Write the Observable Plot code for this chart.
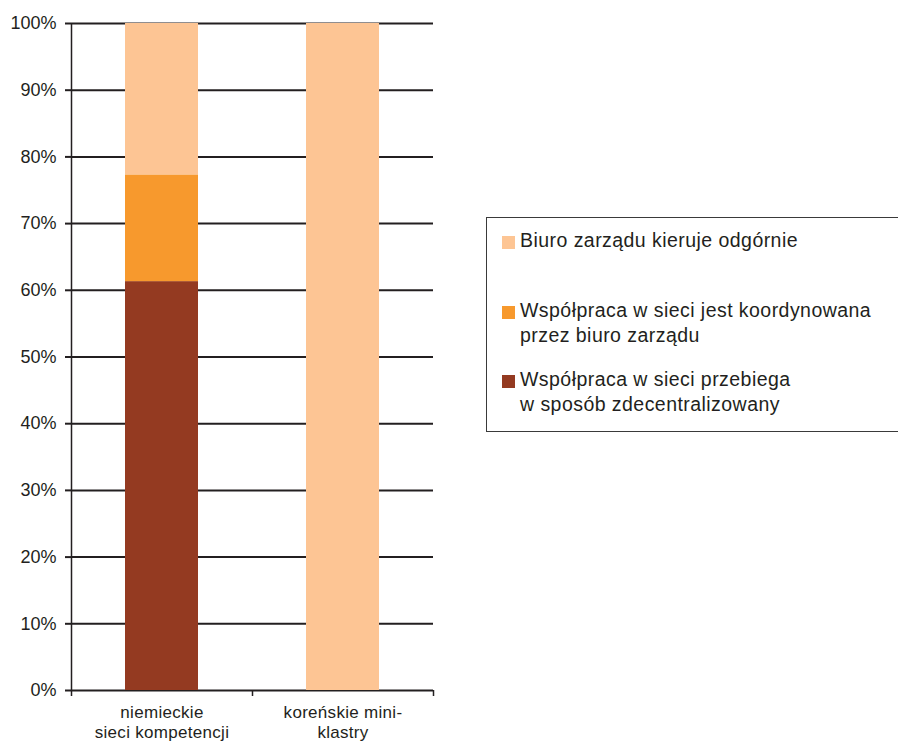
<!DOCTYPE html>
<html>
<head>
<meta charset="utf-8">
<script src="https://cdn.jsdelivr.net/npm/d3@7"></script>
<script src="https://cdn.jsdelivr.net/npm/@observablehq/plot@0.6"></script>
<style>
  html, body { margin: 0; padding: 0; background: #fff; }
  #wrap { position: relative; width: 898px; height: 744px; overflow: hidden; font-family: "Liberation Sans", Arial, sans-serif; }
  #legend { position: absolute; left: 486px; top: 217px; width: 430px; height: 215px; border: 1px solid #3a3a3a; box-sizing: border-box; }
  .item { position: absolute; left: 33px; font-size: 19.5px; letter-spacing: 0.45px; line-height: 25px; color: #231f20; white-space: nowrap; }
  .sw { position: absolute; left: 15px; width: 13px; height: 13px; }
</style>
</head>
<body>
<div id="wrap"></div>
<script>
// Categories (x axis), stacked series (bottom to top) and their shares in percent
const categories = ["niemieckie\nsieci kompetencji", "koreńskie mini-\nklastry"];
const seriesNames = [
  "Współpraca w sieci przebiega w sposób zdecentralizowany",
  "Współpraca w sieci jest koordynowana przez biuro zarządu",
  "Biuro zarządu kieruje odgórnie"
];
const seriesColors = ["#943a21", "#f7992d", "#fdc594"];
const decentralized = [61.3, 0];
const coordinated = [16.0, 0];
const topDown = [22.7, 100];
const yTicks = [0, 10, 20, 30, 40, 50, 60, 70, 80, 90, 100];

// Legend entries, top to bottom, as lines of text
const legendItems = [
  {name: seriesNames[2], lines: ["Biuro zarządu kieruje odgórnie"]},
  {name: seriesNames[1], lines: ["Współpraca w sieci jest koordynowana", "przez biuro zarządu"]},
  {name: seriesNames[0], lines: ["Współpraca w sieci przebiega", "w sposób zdecentralizowany"]}
];

const seriesValues = [decentralized, coordinated, topDown];
const rows = [];
categories.forEach((c, i) => {
  seriesNames.forEach((s, j) => rows.push({idx: i, category: c, series: s, value: seriesValues[j][i]}));
});

const chart = Plot.plot({
  width: 898,
  height: 744,
  marginLeft: 71,
  marginRight: 465,
  marginTop: 23,
  marginBottom: 54,
  style: {fontFamily: "'Liberation Sans', Arial, sans-serif", color: "#231f20", background: "transparent"},
  x: {type: "linear", domain: [0, categories.length]},
  y: {domain: [0, 100]},
  color: {domain: seriesNames, range: seriesColors},
  marks: [
    Plot.ruleY(yTicks, {stroke: "#231f20", strokeWidth: 2}),
    Plot.rectY(rows, {
      x: "idx", interval: 1, y: "value", fill: "series",
      order: seriesNames, insetLeft: 54, insetRight: 54
    }),
    Plot.axisY({
      ticks: yTicks, tickFormat: d => d + "%", tickSize: 6, tickPadding: 9,
      fontSize: 18, stroke: "#231f20", strokeWidth: 2, label: null
    }),
    Plot.ruleX([0], {stroke: "#231f20", strokeWidth: 1.5}),
    Plot.axisX({
      ticks: d3.range(categories.length + 1), tickFormat: () => "", tickSize: 6,
      stroke: "#231f20", strokeWidth: 1.5, label: null
    }),
    Plot.text(categories, {
      x: (d, i) => i + 0.5, y: 0, text: d => d, dy: 14,
      lineAnchor: "top", lineHeight: 1.15, fontSize: 17, fill: "#231f20",
      style: {letterSpacing: "0.3px"}
    })
  ]
});

const wrap = document.getElementById("wrap");
wrap.appendChild(chart);
chart.querySelectorAll("text").forEach(t => { if (t.closest("g[aria-label='text']")) t.setAttribute("letter-spacing", "0.3"); });

const legend = document.createElement("div");
legend.id = "legend";
const tops = [10, 80, 149];
legendItems.forEach((it, k) => {
  const color = seriesColors[seriesNames.indexOf(it.name)];
  const sw = document.createElement("div");
  sw.className = "sw";
  sw.style.background = color;
  sw.style.top = (tops[k] + 8) + "px";
  legend.appendChild(sw);
  const t = document.createElement("div");
  t.className = "item";
  t.style.top = tops[k] + "px";
  t.innerHTML = it.lines.join("<br>");
  legend.appendChild(t);
});
wrap.appendChild(legend);
</script>
</body>
</html>
